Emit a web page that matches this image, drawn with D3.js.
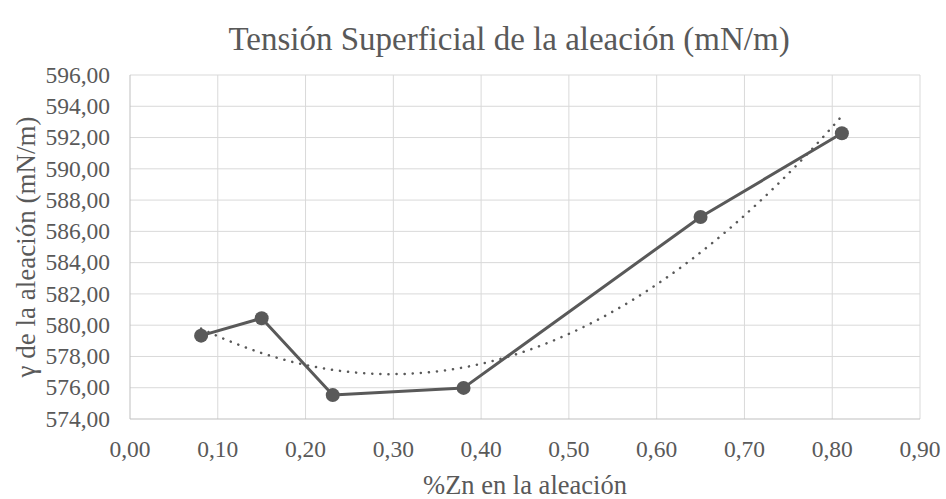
<!DOCTYPE html>
<html>
<head>
<meta charset="utf-8">
<script src="https://cdn.jsdelivr.net/npm/d3@7"></script>
</head>
<body style="margin:0;background:#fff">
<svg id="chart"></svg>
<script>
const zinc = [0.081, 0.150, 0.231, 0.380, 0.650, 0.811]
const tension = [579.33, 580.44, 575.53, 575.99, 586.92, 592.27]
const xTicks = [0, 0.1, 0.2, 0.3, 0.4, 0.5, 0.6, 0.7, 0.8, 0.9]
const yTicks = [574, 576, 578, 580, 582, 584, 586, 588, 590, 592, 594, 596]

const width = 946, height = 499
const margin = {top: 75, right: 26, bottom: 80, left: 130}
const serif = 'Liberation Serif'
const grey = '#595959'

const svg = d3.select('#chart').attr('width', width).attr('height', height)

const x = d3.scaleLinear().domain([0, 0.9]).range([margin.left, width - margin.right])
const y = d3.scaleLinear().domain([574, 596]).range([height - margin.bottom, margin.top])
const fmt = v => d3.format('.2f')(v).replace('.', ',')

// least squares polynomial fit, like the excel trendline
function polyFit(xs, ys, order) {
  const n = order + 1
  const A = [], B = []
  for (let i = 0; i < n; i++) {
    A.push([])
    for (let j = 0; j < n; j++) A[i].push(d3.sum(xs, v => Math.pow(v, i + j)))
    B.push(d3.sum(xs, (v, k) => Math.pow(v, i) * ys[k]))
  }
  for (let i = 0; i < n; i++) {
    for (let k = i + 1; k < n; k++) {
      const f = A[k][i] / A[i][i]
      for (let j = i; j < n; j++) A[k][j] -= f * A[i][j]
      B[k] -= f * B[i]
    }
  }
  const c = new Array(n).fill(0)
  for (let i = n - 1; i >= 0; i--) {
    let s = B[i]
    for (let j = i + 1; j < n; j++) s -= A[i][j] * c[j]
    c[i] = s / A[i][i]
  }
  return v => c.reduce((acc, ci, i) => acc + ci * Math.pow(v, i), 0)
}

// grid
svg.append('g')
  .selectAll('line')
  .data(yTicks.slice(1))
  .enter().append('line')
  .attr('x1', x(0)).attr('x2', x(0.9))
  .attr('y1', d => y(d)).attr('y2', d => y(d))
  .attr('stroke', '#d9d9d9').attr('stroke-width', 1)

svg.append('g')
  .selectAll('line')
  .data(xTicks.slice(1))
  .enter().append('line')
  .attr('x1', d => x(d)).attr('x2', d => x(d))
  .attr('y1', y(574)).attr('y2', y(596))
  .attr('stroke', '#d9d9d9').attr('stroke-width', 1)

// axis lines
svg.append('line')
  .attr('x1', x(0)).attr('x2', x(0.9)).attr('y1', y(574)).attr('y2', y(574))
  .attr('stroke', '#bfbfbf').attr('stroke-width', 1)
svg.append('line')
  .attr('x1', x(0)).attr('x2', x(0)).attr('y1', y(574)).attr('y2', y(596))
  .attr('stroke', '#bfbfbf').attr('stroke-width', 1)

// tick labels
svg.append('g')
  .selectAll('text')
  .data(yTicks)
  .enter().append('text')
  .attr('x', 110).attr('y', d => y(d))
  .attr('dy', '0.33em')
  .attr('text-anchor', 'end')
  .attr('font-family', serif).attr('font-size', 23.5).attr('fill', grey)
  .text(fmt)

svg.append('g')
  .selectAll('text')
  .data(xTicks)
  .enter().append('text')
  .attr('x', d => x(d)).attr('y', 449)
  .attr('dy', '0.33em')
  .attr('text-anchor', 'middle')
  .attr('font-family', serif).attr('font-size', 23.5).attr('fill', grey)
  .text(fmt)

// titles
svg.append('text')
  .attr('x', 509).attr('y', 50)
  .attr('text-anchor', 'middle')
  .attr('font-family', serif).attr('font-size', 33).attr('fill', grey)
  .text('Tensión Superficial de la aleación (mN/m)')

svg.append('text')
  .attr('x', 525).attr('y', 494)
  .attr('text-anchor', 'middle')
  .attr('font-family', serif).attr('font-size', 26.5).attr('fill', grey)
  .text('%Zn en la aleación')

svg.append('text')
  .attr('transform', `translate(35, ${y(585)}) rotate(-90)`)
  .attr('text-anchor', 'middle')
  .attr('font-family', serif).attr('font-size', 27).attr('fill', grey)
  .text('γ de la aleación (mN/m)')

// data
const points = zinc.map((v, i) => [v, tension[i]])
const trend = polyFit(zinc, tension, 2)
const xs = d3.range(zinc[0], zinc[zinc.length - 1] + 0.0001, 0.005)

svg.append('path')
  .datum(xs)
  .attr('d', d3.line().x(d => x(d)).y(d => y(trend(d))))
  .attr('fill', 'none')
  .attr('stroke', grey)
  .attr('stroke-width', 2.5)
  .attr('stroke-linecap', 'round')
  .attr('stroke-dasharray', '0.1 8')

svg.append('path')
  .datum(points)
  .attr('d', d3.line().x(d => x(d[0])).y(d => y(d[1])))
  .attr('fill', 'none')
  .attr('stroke', grey)
  .attr('stroke-width', 3)
  .attr('stroke-linejoin', 'round')

svg.append('g')
  .selectAll('circle')
  .data(points)
  .enter().append('circle')
  .attr('cx', d => x(d[0]))
  .attr('cy', d => y(d[1]))
  .attr('r', 7)
  .attr('fill', grey)
</script>
</body>
</html>
